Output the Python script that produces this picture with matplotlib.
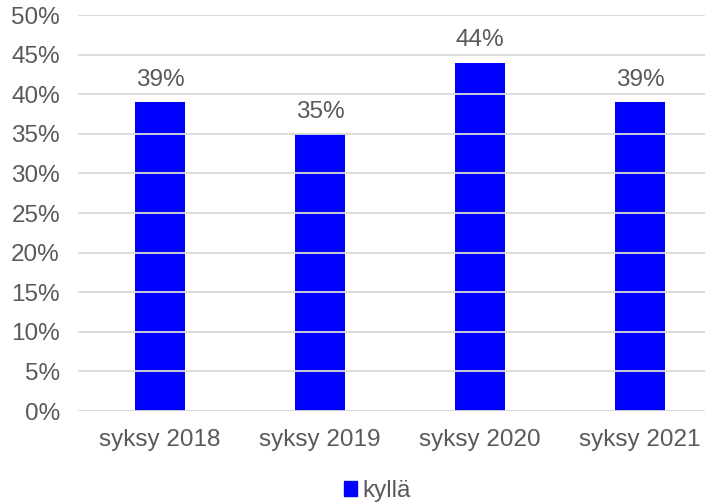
import matplotlib
matplotlib.use("Agg")
import matplotlib.pyplot as plt
from matplotlib.patches import Patch

categories = ["syksy 2018", "syksy 2019", "syksy 2020", "syksy 2021"]
values = [39, 35, 44, 39]
yticks = [0, 5, 10, 15, 20, 25, 30, 35, 40, 45, 50]
series_name = "kyllä"

plt.rcParams['font.family'] = ['Liberation Sans', 'DejaVu Sans']
txt = '#595959'
fs = 17.5

fig = plt.figure(figsize=(7.14, 5.04), dpi=100)
ax = fig.add_axes([78/714, 1-411/504, (705-78)/714, (411-15)/504])
x = list(range(len(categories)))
ax.bar(x, values, width=0.31, color='#0000FF', zorder=2)
for xi, v in zip(x, values):
    ax.text(xi, v + 1.4, f"{v}%", ha='center', va='bottom', fontsize=fs, color=txt)
ax.set_ylim(0, 50)
ax.set_xlim(-0.5125, 3.406)
ax.set_yticks(yticks)
ax.set_yticklabels([f"{t}%" for t in yticks], fontsize=fs, color=txt)
ax.set_xticks(x)
ax.set_xticklabels(categories, fontsize=fs, color=txt)
ax.tick_params(axis='x', length=0, pad=13)
ax.tick_params(axis='y', length=0, pad=13)
for t in yticks:
    ax.axhline(t, color='#D9D9D9', lw=1.3, zorder=3)
for s in ax.spines.values():
    s.set_visible(False)
leg = fig.legend(handles=[Patch(color='#0000FF', label=series_name)], loc='center',
                 bbox_to_anchor=(377/714, 1-491/504), frameon=False, fontsize=fs,
                 handlelength=0.55, handleheight=0.55, handletextpad=0.2)
for t in leg.get_texts():
    t.set_color(txt)
fig.savefig("out.png", dpi=100, facecolor='white')
